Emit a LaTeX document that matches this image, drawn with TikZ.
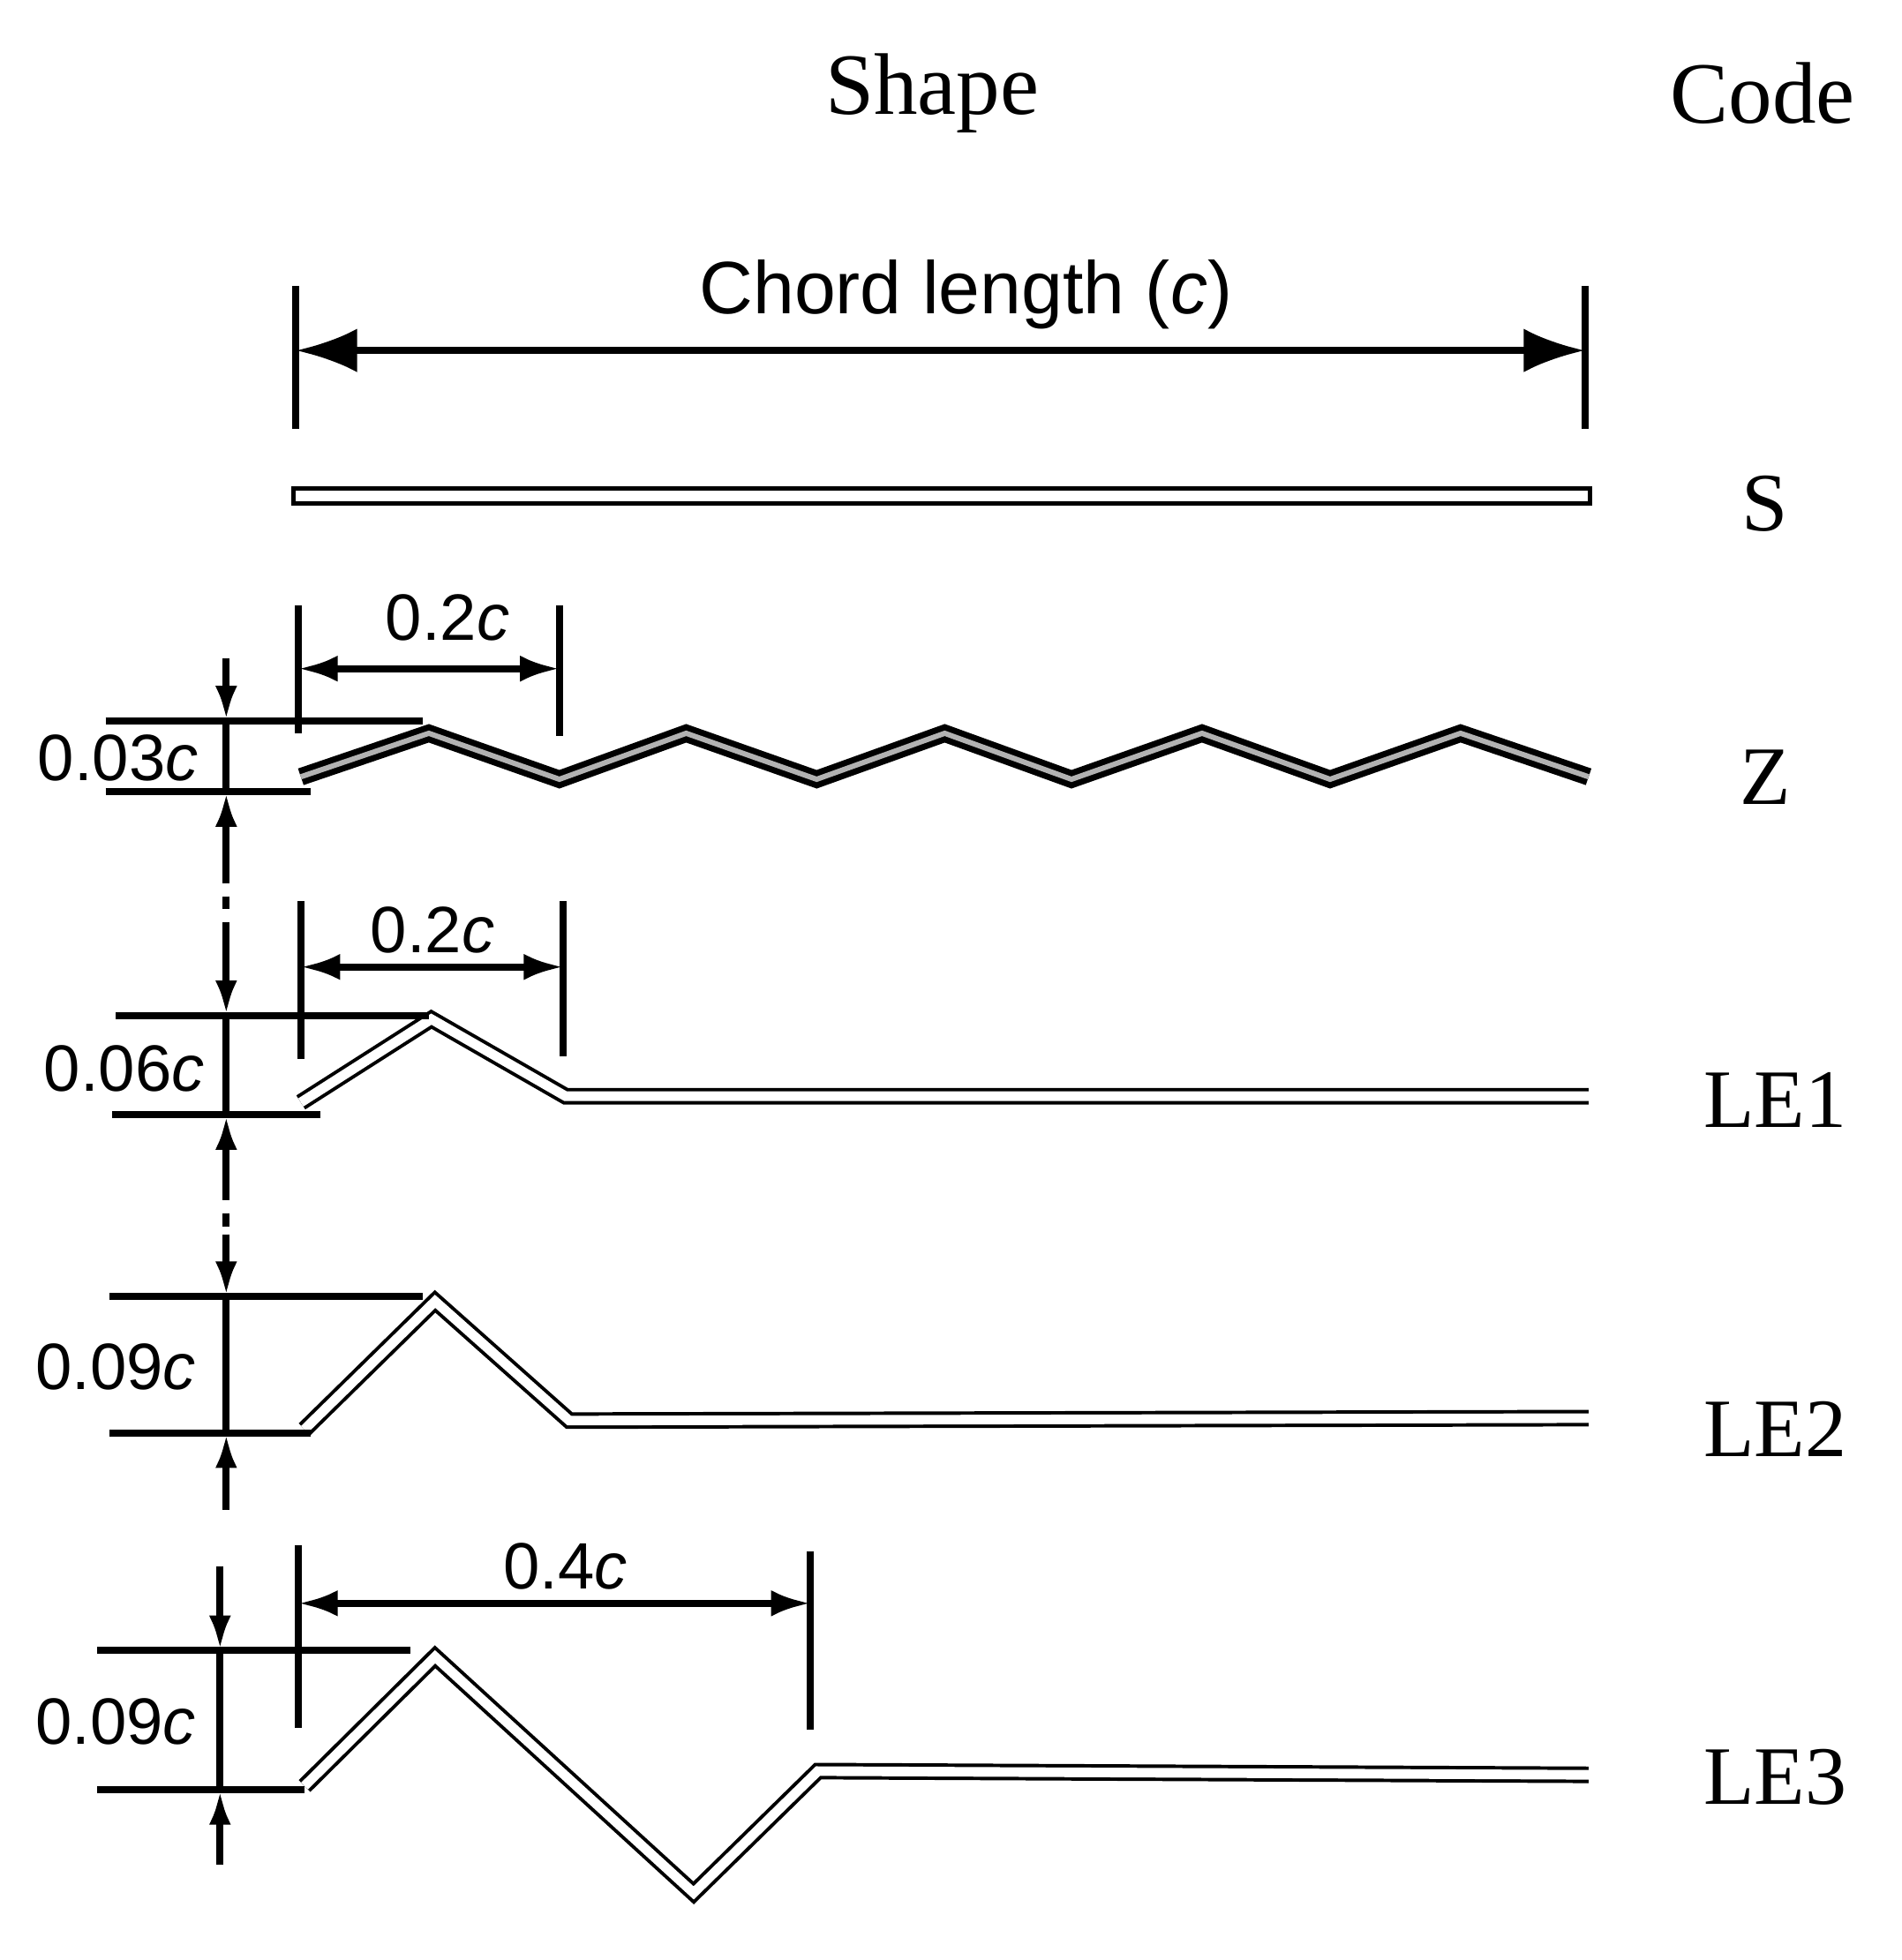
\documentclass[tikz,border=0pt]{standalone}
\usepackage{fontspec}
\setmainfont{Liberation Serif}
\setsansfont{Liberation Sans}
\usetikzlibrary{arrows.meta}
\begin{document}
\begin{tikzpicture}[x=0.01cm,y=-0.01cm,
  dim/.style={line width=1.6pt},
  dimarr/.style={line width=1.6pt,{Latex[length=9pt,width=6pt]}-{Latex[length=9pt,width=6pt]}},
  onearr/.style={line width=1.6pt,-{Latex[length=8pt,width=5pt]}},
  prof/.style={line width=0.8pt,double=white,double distance=2.2pt,line join=miter},
  zprof/.style={line width=1.4pt,double=gray!60,double distance=1.2pt},
  sans/.style={font=\sffamily\fontsize{15}{15}\selectfont},
  code/.style={font=\fontsize{19}{19}\selectfont},
  head/.style={font=\fontsize{20}{20}\selectfont}]
\useasboundingbox (0,0) rectangle (1530,1577);
\node[head] (shape) at (750,75) {Shape};
\node[head] (code) at (1418,75) {Code};
% chord
\draw[dim] (238,230) -- (238,345); \draw[dim] (1275,230) -- (1275,345);
\coordinate (cl) at (238,282); \coordinate (cr) at (1275,282);
\draw[line width=1.6pt,{Latex[length=14pt,width=10pt]}-{Latex[length=14pt,width=10pt]}] (cl) -- (cr);
\node[sans,font=\sffamily\fontsize{17}{17}\selectfont] (chord) at (777,237) {Chord length (\textit{c})};
% S
\draw[line width=0.9pt] (236,393) rectangle (1279,405);
\node[code] (s) at (1420,405) {S};
% Z
\draw[zprof] (242,625) -- (345,590) -- (450,627) -- (552,590) -- (657,627) -- (760,590) -- (862,627) -- (967,590) -- (1070,627) -- (1175,590) -- (1278,625);
\node[code] (z) at (1420,625) {Z};
\draw[dim] (240,487) -- (240,590); \draw[dim] (450,487) -- (450,592);
\coordinate (za) at (240,538); \coordinate (zb) at (450,538);
\draw[dimarr] (za) -- (zb);
\node[sans] (z02) at (360,497) {0.2\textit{c}};
\draw[dim] (85,580) -- (340,580); \draw[dim] (85,637) -- (250,637);
\draw[dim] (182,580) -- (182,637);
\draw[onearr] (182,530) -- (182,580);
\draw[onearr] (182,700) -- (182,637);
\node[sans] (z003) at (95,610) {0.03\textit{c}};
\draw[line width=1.6pt,dashed] (182,700) -- (182,745);
% LE1
\draw[prof] (242,887) -- (347,820) -- (455,882) -- (1278,882);
\node[code] (le1) at (1428,885) {LE1};
\draw[dim] (242,725) -- (242,852); \draw[dim] (453,725) -- (453,850);
\coordinate (la) at (242,778); \coordinate (lb) at (453,778);
\draw[dimarr] (la) -- (lb);
\node[sans] (l02) at (348,748) {0.2\textit{c}};
\draw[dim] (93,817) -- (345,817); \draw[dim] (90,897) -- (258,897);
\draw[dim] (182,817) -- (182,897);
\draw[onearr] (182,745) -- (182,817);
\draw[onearr] (182,955) -- (182,897);
\node[sans] (l006) at (100,860) {0.06\textit{c}};
\draw[line width=1.6pt,dashed] (182,955) -- (182,993);
% LE2
\draw[prof] (245,1150) -- (350,1047) -- (458,1143) -- (1278,1141);
\node[code] (le2) at (1428,1150) {LE2};
\draw[dim] (88,1043) -- (340,1043); \draw[dim] (88,1153) -- (250,1153);
\draw[dim] (182,1043) -- (182,1153);
\draw[onearr] (182,993) -- (182,1043);
\draw[onearr] (182,1215) -- (182,1153);
\node[sans] (m009) at (93,1100) {0.09\textit{c}};
% LE3
\draw[prof] (245,1437) -- (350,1333) -- (558,1523) -- (658,1425) -- (1278,1428);
\node[code] (le3) at (1428,1430) {LE3};
\draw[dim] (240,1243) -- (240,1390); \draw[dim] (652,1248) -- (652,1392);
\coordinate (ea) at (240,1290); \coordinate (eb) at (652,1290);
\draw[dimarr] (ea) -- (eb);
\node[sans] (e04) at (455,1260) {0.4\textit{c}};
\draw[dim] (78,1328) -- (330,1328); \draw[dim] (78,1440) -- (245,1440);
\draw[dim] (177,1328) -- (177,1440);
\draw[onearr] (177,1260) -- (177,1328);
\draw[onearr] (177,1500) -- (177,1440);
\node[sans] (e009) at (93,1385) {0.09\textit{c}};
\end{tikzpicture}
\end{document}
